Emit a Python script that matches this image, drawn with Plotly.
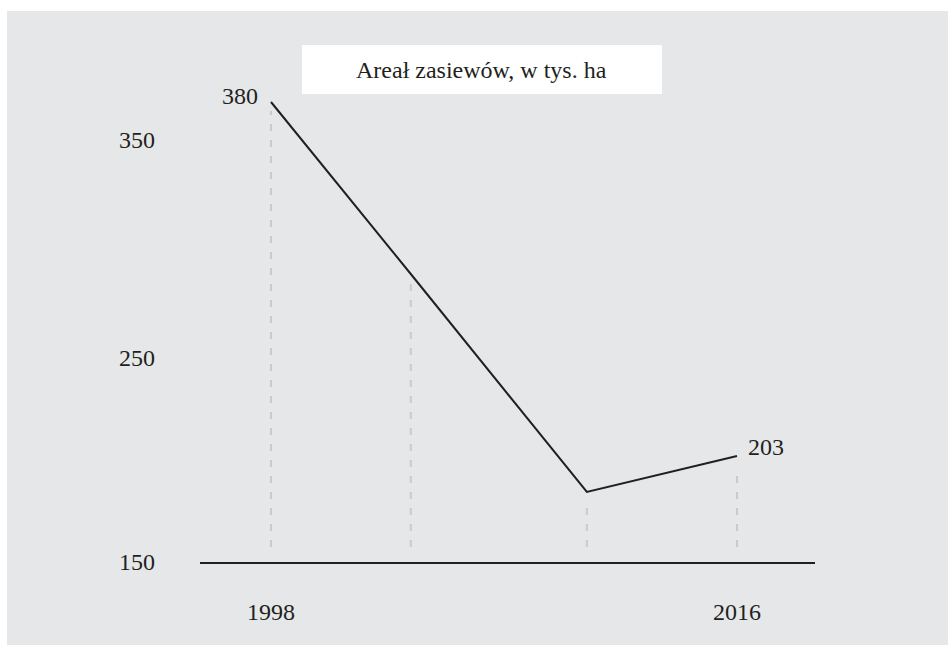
import plotly.graph_objects as go

# Data
years = [1998, 2003.4, 2010.2, 2016]
area = [380, 294, 185, 203]
title_text = "Areał zasiewów, w tys. ha"
x_tick_vals = [1998, 2016]
x_tick_text = ["1998", "2016"]
y_tick_vals = [150, 252, 361]
y_tick_text = ["150", "250", "350"]
labels = {0: "380", 3: "203"}

INK = "#231f20"
GRAY_BG = "#e6e7e8"
DASH = "#c9cacc"
FONT = "Liberation Serif"

W, H = 949, 645
ml, mr, mt, mb = 200, 134, 11, 83
pw, ph = W - ml - mr, H - mt - mb

def px_x(px):
    return (px - ml) / pw

def px_y(py):
    return (H - mb - py) / ph

fig = go.Figure()

# dashed drop lines
base = 157.5
gaps = [4.5, 4.5, 7, 6]
for x, y, g in zip(years, area, gaps):
    fig.add_trace(go.Scatter(
        x=[x, x], y=[base, y - g], mode="lines",
        line=dict(color=DASH, width=2, dash="7px,9px"),
        hoverinfo="skip", showlegend=False))

fig.add_trace(go.Scatter(
    x=years, y=area, mode="lines",
    line=dict(color=INK, width=2), showlegend=False))

# value labels
fig.add_annotation(x=years[0], y=area[0], text=labels[0], showarrow=False,
                   xanchor="right", yanchor="middle", xshift=-11, yshift=6,
                   font=dict(family=FONT, size=24, color=INK))
fig.add_annotation(x=years[3], y=area[3], text=labels[3], showarrow=False,
                   xanchor="left", yanchor="middle", xshift=9, yshift=9,
                   font=dict(family=FONT, size=24, color=INK))

# background + title box
fig.add_shape(type="rect", xref="paper", yref="paper",
              x0=px_x(7), x1=px_x(948), y0=px_y(645), y1=px_y(11),
              fillcolor=GRAY_BG, line=dict(width=0), layer="below")
fig.add_shape(type="rect", xref="paper", yref="paper",
              x0=px_x(302), x1=px_x(662), y0=px_y(94), y1=px_y(45),
              fillcolor="white", line=dict(width=0), layer="below")
fig.add_annotation(xref="paper", yref="paper", x=px_x(481), y=px_y(70),
                   text=title_text, showarrow=False, xanchor="center", yanchor="middle",
                   font=dict(family=FONT, size=24, color=INK))

fig.update_layout(
    width=W, height=H,
    margin=dict(l=ml, r=mr, t=mt, b=mb, pad=0),
    paper_bgcolor="white", plot_bgcolor="rgba(0,0,0,0)",
    font=dict(family=FONT, size=24, color=INK),
    showlegend=False,
)
x0 = 1998 - 71 / 25.89
x1 = 2016 + 78 / 25.89
fig.update_xaxes(range=[x0, x1], showgrid=False, zeroline=False,
                 showline=True, linecolor=INK, linewidth=2,
                 tickvals=x_tick_vals, ticktext=x_tick_text, ticks="",
                 ticklabelstandoff=27, tickfont=dict(family=FONT, size=24, color=INK))
fig.update_yaxes(range=[150, 150 + ph / 2.0], showgrid=False, zeroline=False,
                 showline=False, tickvals=y_tick_vals, ticktext=y_tick_text, ticks="",
                 ticklabelstandoff=44, tickfont=dict(family=FONT, size=24, color=INK))

fig.write_html("out.html")
